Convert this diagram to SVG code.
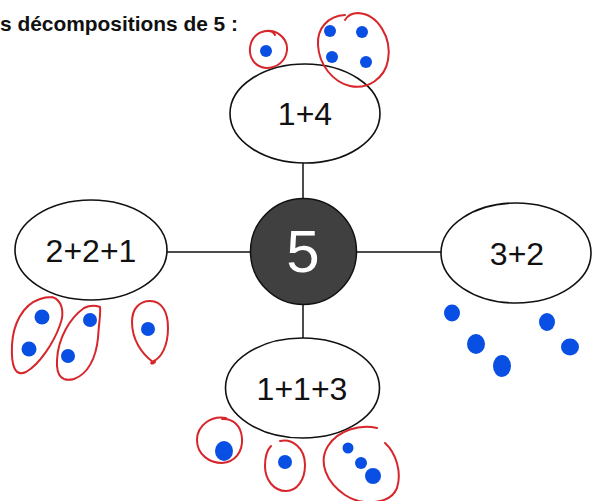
<svg xmlns="http://www.w3.org/2000/svg" width="593" height="501" viewBox="0 0 593 501">
  <style>
    .title { font-family: "Liberation Sans", Arial, sans-serif; font-weight: bold; font-size: 20.5px; fill: #111; }
    .node ellipse { fill: #fff; stroke: #111; stroke-width: 1.6; }
    .label { font-family: "Liberation Sans", Arial, sans-serif; font-size: 32px; fill: #111; text-anchor: middle; }
    .center circle { fill: #404040; stroke: #111; stroke-width: 1.5; }
    .center text { font-family: "Liberation Sans", Arial, sans-serif; font-size: 60px; fill: #fff; text-anchor: middle; }
    .link { stroke: #111; stroke-width: 1.5; fill: none; }
    .dot { fill: #0a4fe4; }
    .loop { fill: none; stroke: #d7262b; stroke-width: 2; stroke-linecap: round; stroke-linejoin: round; }
  </style>

  <rect width="593" height="501" fill="#fff"/>

  <text class="title" x="0" y="31" textLength="238" lengthAdjust="spacingAndGlyphs">s décompositions de 5 :</text>

  <!-- connectors between the centre and each decomposition -->
  <g id="connectors">
    <line class="link" x1="303" y1="163" x2="303" y2="198"/>
    <line class="link" x1="167" y1="252" x2="250" y2="252"/>
    <line class="link" x1="357" y1="252" x2="441" y2="252"/>
    <line class="link" x1="303" y1="305" x2="303" y2="338"/>
  </g>

  <g id="center" class="center">
    <circle cx="303.5" cy="251.5" r="53"/>
    <text x="303" y="272">5</text>
  </g>

  <g id="node-1-4" class="node">
    <ellipse cx="305" cy="113.5" rx="75" ry="49.5"/>
    <text class="label" x="305" y="125">1+4</text>
  </g>

  <g id="node-2-2-1" class="node">
    <ellipse cx="91" cy="250" rx="76" ry="50"/>
    <text class="label" x="91" y="262">2+2+1</text>
  </g>

  <g id="node-3-2" class="node">
    <ellipse cx="516" cy="253" rx="75" ry="50"/>
    <text class="label" x="517" y="265">3+2</text>
  </g>

  <g id="node-1-1-3" class="node">
    <ellipse cx="302.5" cy="388" rx="77" ry="50"/>
    <text class="label" x="302" y="400">1+1+3</text>
  </g>

  <!-- counters for 1+4 -->
  <g id="dots-1-4">
    <path class="loop" d="M262 32 C275 27 288 38 287 50 C286 62 276 68 266 68 C255 67 249 58 250 48 C251 38 258 31 268 31 C272 31 274 33 275 35"/>
    <circle class="dot" cx="266" cy="51" r="6"/>
    <path class="loop" d="M345 20 C348 15 352 13 358 13 C378 14 392 38 388 60 C385 78 368 90 350 86 C333 82 319 65 318 45 C317 28 328 16 345 15"/>
    <circle class="dot" cx="330" cy="31" r="6"/>
    <circle class="dot" cx="362" cy="32" r="6"/>
    <circle class="dot" cx="332" cy="57" r="6"/>
    <circle class="dot" cx="366" cy="62" r="6"/>
  </g>

  <!-- counters for 2+2+1 -->
  <g id="dots-2-2-1">
    <path class="loop" d="M52 297 C62 300 65 312 60 325 C54 342 40 364 26 372 C15 377 11 366 12 345 C13 325 22 305 40 299 C45 297 49 297 52 297"/>
    <circle class="dot" cx="42" cy="317" r="7.5"/>
    <circle class="dot" cx="29" cy="349" r="7.5"/>
    <path class="loop" d="M100 307 C95 305 90 305 84 308 C70 318 58 338 57 360 C56 377 63 382 74 379 C88 374 96 358 98 338 C99 322 101 312 100 307"/>
    <circle class="dot" cx="90" cy="320" r="7"/>
    <circle class="dot" cx="68" cy="356" r="7"/>
    <path class="loop" d="M153 362 C142 354 132 340 132 322 C132 308 140 301 150 301 C162 301 168 312 168 328 C168 345 162 358 152 362 C150 363 152 365 155 362"/>
    <circle class="dot" cx="148" cy="329" r="7"/>
  </g>

  <!-- counters for 3+2 -->
  <g id="dots-3-2">
    <ellipse class="dot" cx="452" cy="313" rx="8" ry="8.5"/>
    <ellipse class="dot" cx="476" cy="344" rx="9" ry="10"/>
    <ellipse class="dot" cx="502" cy="366" rx="9" ry="11"/>
    <ellipse class="dot" cx="547" cy="322" rx="8" ry="9"/>
    <ellipse class="dot" cx="570" cy="347" rx="9" ry="8.5"/>
  </g>

  <!-- counters for 1+1+3 -->
  <g id="dots-1-1-3">
    <path class="loop" d="M226 418 C212 415 197 425 197 440 C197 455 210 463 222 463 C235 462 243 452 242 438 C241 425 232 418 222 419"/>
    <ellipse class="dot" cx="224" cy="451" rx="9" ry="10"/>
    <path class="loop" d="M280 441 C292 438 305 448 305 465 C305 480 297 491 286 491 C274 491 265 480 265 466 C265 456 267 450 271 446"/>
    <circle class="dot" cx="285" cy="462" r="7"/>
    <path class="loop" d="M377 428 C360 424 338 430 328 446 C318 462 326 482 345 495 C362 506 390 505 397 488 C402 472 396 453 385 443"/>
    <circle class="dot" cx="348" cy="448" r="5.5"/>
    <circle class="dot" cx="361" cy="463" r="6"/>
    <circle class="dot" cx="373" cy="476" r="8"/>
  </g>
</svg>
